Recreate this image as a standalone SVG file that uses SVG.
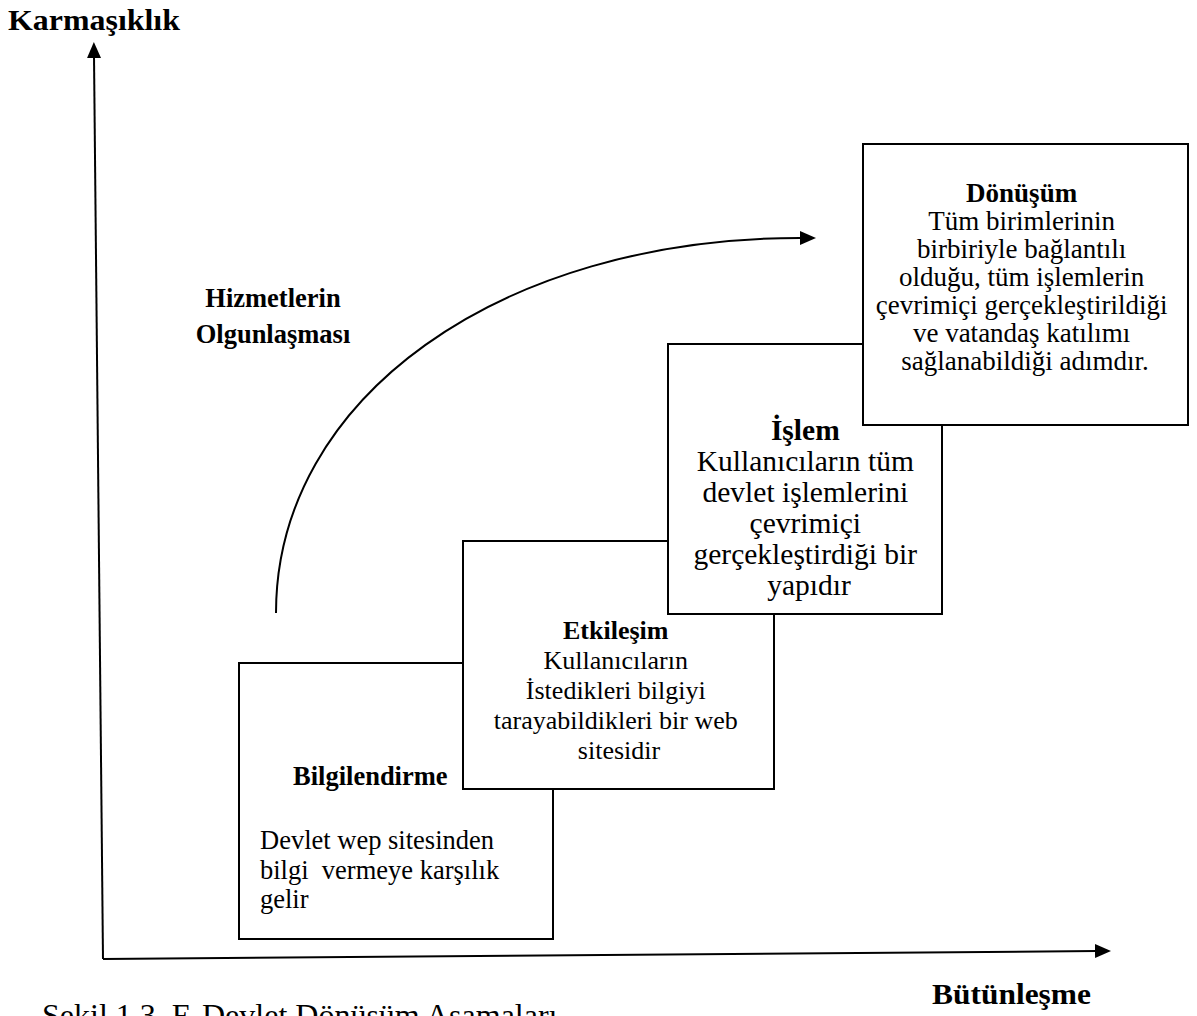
<svg xmlns="http://www.w3.org/2000/svg" width="1197" height="1016" viewBox="0 0 1197 1016">
  <defs>
    <marker id="head" markerUnits="userSpaceOnUse" markerWidth="16" markerHeight="14" refX="2" refY="7" orient="auto">
      <path d="M0,0 L16,7 L0,14 z" fill="#000"/>
    </marker>
  </defs>
  <style>
    .box { fill: #fff; stroke: #000; stroke-width: 2; }
    .axis { fill: none; stroke: #000; stroke-width: 2; }
    .t { font-family: "Liberation Serif", "Times New Roman", serif; font-size: 26.5px; fill: #000; }
    .c { text-anchor: middle; }
    .b { font-weight: bold; }
    .big { font-size: 30px; }
  </style>
  <rect width="1197" height="1016" fill="#fff"/>

  <!-- axes and the maturity curve -->
  <g id="connectors">
    <path class="axis" d="M103,959 L94,56" marker-end="url(#head)"/>
    <path class="axis" d="M103,959 L1097,951" marker-end="url(#head)"/>
    <path class="axis" d="M276,613 C276,398 500,238 800,238 L802,238" marker-end="url(#head)"/>
  </g>

  <g id="axis-labels">
    <text class="t b big" x="8" y="30" textLength="172" lengthAdjust="spacingAndGlyphs">Karmaşıklık</text>
    <text class="t b big" x="932" y="1004" textLength="159" lengthAdjust="spacingAndGlyphs">Bütünleşme</text>
    <text class="t b c" x="273" y="307">Hizmetlerin</text>
    <text class="t b c" x="273" y="343">Olgunlaşması</text>
  </g>

  <!-- stage boxes, drawn back to front -->
  <g id="bilgilendirme">
    <rect class="box" x="239" y="663" width="314" height="276"/>
    <text class="t b" x="293" y="785">Bilgilendirme</text>
    <text class="t" x="260" y="849">Devlet wep sitesinden</text>
    <text class="t" x="260" y="879" xml:space="preserve">bilgi  vermeye karşılık</text>
    <text class="t" x="260" y="908">gelir</text>
  </g>

  <g id="etkilesim">
    <rect class="box" x="463" y="541" width="311" height="248"/>
    <text class="t c" style="font-size:26px">
      <tspan class="b" x="619" y="639">Etkileşim</tspan>
      <tspan x="619" y="669">Kullanıcıların</tspan>
      <tspan x="619" y="699">İstedikleri bilgiyi</tspan>
      <tspan x="619" y="729">tarayabildikleri bir web</tspan>
      <tspan x="619" y="759">sitesidir</tspan>
    </text>
  </g>

  <g id="islem">
    <rect class="box" x="668" y="344" width="274" height="270"/>
    <text class="t c" style="font-size:29.5px">
      <tspan class="b" x="809" y="440">İşlem</tspan>
      <tspan x="809" y="471">Kullanıcıların tüm</tspan>
      <tspan x="809" y="502">devlet işlemlerini</tspan>
      <tspan x="809" y="533">çevrimiçi</tspan>
      <tspan x="809" y="564">gerçekleştirdiği bir</tspan>
      <tspan x="809" y="595">yapıdır</tspan>
    </text>
  </g>

  <g id="donusum">
    <rect class="box" x="863" y="144" width="325" height="281"/>
    <text class="t c" style="font-size:27px">
      <tspan class="b" x="1025" y="202">Dönüşüm</tspan>
      <tspan x="1025" y="230">Tüm birimlerinin</tspan>
      <tspan x="1025" y="258">birbiriyle bağlantılı</tspan>
      <tspan x="1025" y="286">olduğu, tüm işlemlerin</tspan>
      <tspan x="1025" y="314">çevrimiçi gerçekleştirildiği</tspan>
      <tspan x="1025" y="342">ve vatandaş katılımı</tspan>
      <tspan x="1025" y="370">sağlanabildiği adımdır.</tspan>
    </text>
  </g>

  <g id="caption">
    <text class="t" style="font-size:32px" x="42" y="1026">Şekil 1.3. E-Devlet Dönüşüm Aşamaları</text>
  </g>
</svg>
